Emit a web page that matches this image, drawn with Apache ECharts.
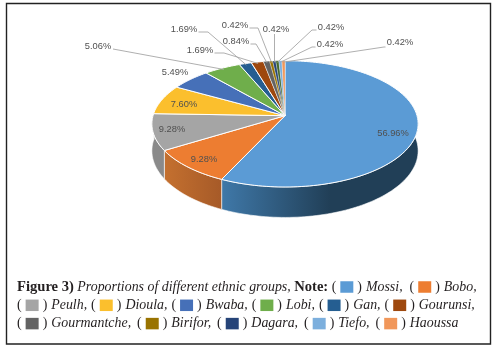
<!DOCTYPE html>
<html>
<head>
<meta charset="utf-8">
<style>html,body{margin:0;padding:0;background:#fff}#chart{width:496px;height:351px}</style>
<script src="https://cdn.jsdelivr.net/npm/echarts@6/dist/echarts.min.js"></script>
</head>
<body>
<div id="chart"></div>
<script>
'use strict';
// slices, clockwise from 12 o'clock (the picture has one green slice the note does not name)
const values = [56.96, 9.28, 9.28, 7.60, 5.49, 5.06, 1.69, 1.69, 0.84, 0.42, 0.42, 0.42, 0.42, 0.42];
const valueLabels = ['56.96%', '9.28%', '9.28%', '7.60%', '5.49%', '5.06%', '1.69%', '1.69%', '0.84%', '0.42%', '0.42%', '0.42%', '0.42%', '0.42%'];
const colors = ['#5b9bd5', '#ed7d31', '#a5a5a5', '#fbbf2d', '#4670b8', '#6fae4b', '#255e91', '#9e480e', '#636363', '#997300', '#264478', '#43682b', '#7cafdd', '#f1975a'];
const noteNames = ['Mossi', 'Bobo', 'Peulh', 'Dioula', 'Bwaba', 'Lobi', 'Gan', 'Gourunsi', 'Gourmantche', 'Birifor', 'Dagara', 'Tiefo', 'Haoussa'];
const noteColors = ['#5b9bd5', '#ed7d31', '#a5a5a5', '#fbbf2d', '#4670b8', '#6fae4b', '#255e91', '#9e480e', '#636363', '#997300', '#264478', '#7cafdd', '#f1975a'];

// label centre, then the knee of the leader line (null = no leader)
const labelPos = [[393, 133], [204, 159], [172, 129], [184, 104], [175, 72], [98, 46], [184, 29], [200, 50], [236, 41], [235, 25], [276, 29], [331, 27], [330, 44], [400, 42]];
const leaderKnee = [null, null, null, null, null, [113, 49], [208, 32], [224, 53], [256, 44], [258, 28], [274.5, 34], [312, 30], [312, 47], [384, 47]];

// projection of the tilted disc
const cx = 285;
const cy = 115.7;
const rx = 132;
const ry = 62.1;
const persp = 0.129;
const depth = 26.5;

const total = values.reduce((a, b) => a + b, 0);
const starts = [];
values.reduce((acc, v, i) => { starts[i] = acc; return acc + v; }, 0);

function project(deg, r, drop) {
    const a = deg * Math.PI / 180;
    const X = Math.sin(a) * r;
    const Y = Math.cos(a) * r;
    const s = 1 / (1 + persp * Y);
    return [cx + rx * X * s, cy - ry * Y * s + (drop ? depth * s : 0)];
}

function arc(from, to, drop) {
    const pts = [];
    const n = Math.max(2, Math.ceil((to - from) / 1.5));
    for (let i = 0; i <= n; i++) {
        pts.push(project(from + (to - from) * i / n, 1, drop));
    }
    return pts;
}

function angleOf(i) {
    const a0 = starts[i] / total * 360;
    return [a0, a0 + values[i] / total * 360];
}

const sideFills = {
    0: new echarts.graphic.LinearGradient(222, 0, 330, 0, [
        { offset: 0, color: '#3f78a8' }, { offset: 1, color: '#213f57' }
    ], true),
    1: new echarts.graphic.LinearGradient(165, 0, 222, 0, [
        { offset: 0, color: '#c4702f' }, { offset: 1, color: '#a65a28' }
    ], true),
    2: '#8a8a8a'
};

function renderSide(params) {
    const [a0, a1] = angleOf(params.dataIndex);
    const from = Math.max(a0, 85);
    const to = Math.min(a1, 275);
    if (to <= from) {
        return null;
    }
    const top = arc(from, to, false);
    const bottom = arc(from, to, true).reverse();
    return {
        type: 'polygon',
        shape: { points: top.concat(bottom) },
        style: { fill: sideFills[params.dataIndex], stroke: '#fff', lineWidth: 0.6 }
    };
}

function renderTop(params) {
    const [a0, a1] = angleOf(params.dataIndex);
    return {
        type: 'polygon',
        shape: { points: [[cx, cy]].concat(arc(a0, a1, false)) },
        style: {
            fill: colors[params.dataIndex],
            stroke: '#fff',
            lineWidth: values[params.dataIndex] >= 1 ? 1 : 0.3
        }
    };
}

function renderLabel(params) {
    const i = params.dataIndex;
    const [a0, a1] = angleOf(i);
    const children = [];
    if (leaderKnee[i]) {
        const knee = leaderKnee[i];
        const end = project((a0 + a1) / 2, 0.97, false);
        const pts = [knee, end];
        const dx = labelPos[i][0] - knee[0];
        // short flat run from the text to the knee
        if (Math.abs(dx) > 15) {
            pts.unshift([labelPos[i][0] - Math.sign(dx) * 14.5, knee[1]]);
        }
        children.push({
            type: 'polyline',
            shape: { points: pts },
            style: { fill: 'none', stroke: '#a6a6a6', lineWidth: 0.9 }
        });
    }
    children.push({
        type: 'text',
        style: {
            x: labelPos[i][0],
            y: labelPos[i][1],
            text: valueLabels[i],
            align: 'center',
            verticalAlign: 'middle',
            fill: '#505050',
            font: '9.3px "Liberation Sans"'
        }
    });
    return { type: 'group', children: children };
}

// caption: "( [swatch] ) Name," runs, built from the note arrays
const rich = {
    b: { font: 'bold 14.6px "Liberation Serif"', fill: '#231f20' },
    i: { font: 'italic 13.9px "Liberation Serif"', fill: '#231f20' },
    n: { font: '13.9px "Liberation Serif"', fill: '#231f20' },
    g: { width: 4, font: '13.9px "Liberation Serif"' },
    h1: { width: 7, font: '13.9px "Liberation Serif"' },
    h2: { width: 4, font: '13.9px "Liberation Serif"' },
    h3: { width: 6, font: '13.9px "Liberation Serif"' }
};
noteColors.forEach((c, i) => {
    rich['s' + i] = { backgroundColor: c, width: 13, height: 11.5 };
});

function noteRun(i, last) {
    return '{n|(}{g| }{s' + i + '| }{g| }{n|)}{g| }{i|' + noteNames[i] + (last ? '' : ',') + '}';
}

const captionLines = [
    '{b|Figure 3)}{i| Proportions of different ethnic groups, }{b|Note:}{n| }' + noteRun(0) + '{h1| }' + noteRun(1),
    [2, 3, 4, 5, 6, 7].map((i) => noteRun(i)).join('{h2| }'),
    [8, 9, 10, 11].map((i) => noteRun(i)).join('{h3| }') + '{h3| }' + noteRun(12, true)
];

const chart = echarts.init(document.getElementById('chart'), null, { renderer: 'canvas' });
const sliceData = values.map((v) => [v]);
chart.setOption({
    animation: false,
    backgroundColor: '#fff',
    graphic: [
        {
            type: 'rect',
            silent: true,
            shape: { x: 6.5, y: 3.5, width: 484, height: 340.5 },
            style: { fill: 'none', stroke: '#222', lineWidth: 1.4 }
        }
    ].concat(captionLines.map((t, i) => ({
        type: 'text',
        silent: true,
        style: { x: 17, y: 287 + i * 18.3, text: t, rich: rich, verticalAlign: 'middle', align: 'left' }
    }))),
    series: [
        { type: 'custom', coordinateSystem: 'none', silent: true, z: 1, data: sliceData, renderItem: renderSide },
        { type: 'custom', coordinateSystem: 'none', silent: true, z: 2, data: sliceData, renderItem: renderTop },
        { type: 'custom', coordinateSystem: 'none', silent: true, z: 3, data: sliceData, renderItem: renderLabel }
    ]
});
</script>
</body>
</html>
